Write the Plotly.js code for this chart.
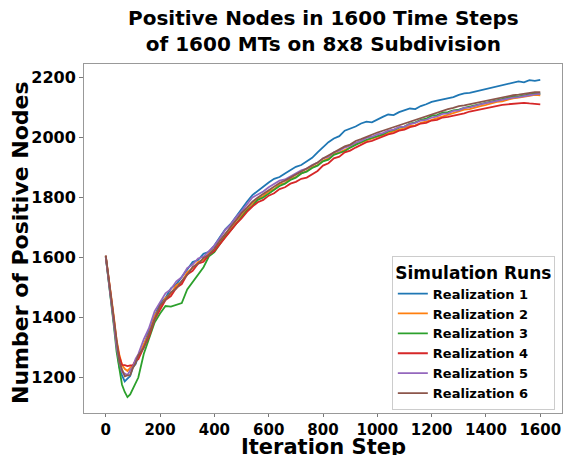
<!DOCTYPE html>
<html>
<head>
<meta charset="utf-8">
<script src="https://cdn.plot.ly/plotly-3.0.1.min.js"></script>
<style>html,body{margin:0;padding:0;background:#fff;}#chart{width:565px;height:455px;}</style>
</head>
<body>
<div id="chart"></div>
<script>
const steps = [0,10,20,30,40,50,60,70,80,90,100,110,120,140,160,180,200,220,240,260,280,300,320,340,360,380,400,420,440,460,480,500,520,540,560,580,600,620,640,660,680,700,720,740,760,780,800,820,840,860,880,900,920,940,960,980,1000,1020,1040,1060,1080,1100,1120,1140,1160,1180,1200,1220,1240,1260,1280,1300,1320,1340,1360,1380,1400,1420,1440,1460,1480,1500,1520,1540,1560,1580,1600];

const realization1 = [1603,1528,1455,1366,1298,1236,1208,1188,1197,1206,1235,1246,1271,1306,1362,1404,1448,1466,1498,1511,1536,1557,1585,1592,1613,1619,
  1640,1668,1694,1712,1738,1762,1786,1808,1822,1838,1850,1862,1868,1880,1890,1902,1908,1920,1932,1950,
  1968,1984,1996,2004,2022,2028,2036,2046,2052,2050,2060,2068,2076,2074,2084,2090,2096,2094,2104,2110,2118,2122,2126,2130,2134,2141,2146,2148,2152,2158,2162,2165,2170,2172,2178,2182,2186,2183,2190,2188,2191];

const realization2 = [1606,1547,1472,1403,1327,1278,1243,1230,1223,1233,1240,1258,1269,1311,1349,1405,1437,1465,1480,1508,1519,1551,1565,1585,1593,1613,
  1628,1650,1676,1698,1722,1740,1762,1780,1795,1805,1820,1828,1844,1848,1862,1868,1880,1888,1900,1908,1922,1930,1944,1950,1958,1966,1978,1982,1990,1996,
  2004,2008,2016,2020,2026,2030,2038,2040,2048,2052,2058,2064,2070,2076,2080,2086,2092,2094,2100,2104,2108,2114,2118,2120,2126,2130,2132,2136,2138,2141,2140];

const realization3 = [1604,1532,1447,1372,1287,1228,1177,1153,1136,1145,1162,1184,1201,1279,1331,1384,1414,1439,1437,1444,1449,1494,1518,1546,1568,1604,
  1618,1644,1670,1690,1712,1734,1756,1772,1792,1800,1812,1824,1838,1846,1858,1866,1880,1886,1898,1906,1920,1926,1942,1948,1954,1966,1976,1984,1992,1998,
  2006,2010,2020,2024,2032,2036,2046,2050,2058,2062,2072,2074,2082,2084,2090,2092,2098,2102,2108,2110,2116,2120,2124,2126,2130,2136,2136,2140,2142,2146,2145];

const realization4 = [1606,1542,1465,1393,1317,1271,1243,1242,1239,1241,1242,1258,1262,1301,1338,1394,1426,1459,1472,1500,1512,1544,1556,1580,1586,1609,
  1622,1644,1668,1688,1712,1730,1752,1770,1784,1792,1806,1814,1828,1834,1846,1852,1862,1866,1878,1888,1906,1914,1930,1936,1950,1956,1966,1974,1984,1988,
  1996,2002,2010,2014,2022,2026,2034,2038,2046,2048,2056,2058,2066,2068,2072,2074,2080,2086,2090,2094,2098,2102,2106,2108,2110,2112,2114,2115,2113,2112,2110];

const realization5 = [1602,1534,1452,1381,1302,1253,1219,1213,1209,1225,1237,1263,1279,1328,1367,1421,1452,1481,1495,1521,1535,1565,1577,1597,1603,1623,
  1640,1664,1692,1710,1735,1754,1776,1800,1810,1820,1834,1846,1856,1860,1870,1878,1890,1896,1908,1916,1930,1936,1950,1956,1966,1972,1982,1988,1998,2002,
  2010,2014,2022,2026,2034,2036,2044,2048,2056,2058,2066,2070,2078,2080,2088,2090,2098,2100,2106,2110,2114,2118,2122,2124,2128,2132,2134,2138,2140,2143,2145];

const realization6 = [1607,1538,1465,1382,1315,1255,1228,1205,1208,1209,1233,1249,1275,1299,1348,1392,1441,1459,1485,1497,1523,1542,1569,1579,1599,1609,
  1630,1656,1680,1702,1724,1748,1766,1786,1800,1812,1826,1838,1848,1856,1866,1876,1886,1896,1906,1916,1930,1940,1950,1960,1970,1976,1988,1994,2002,2010,
  2016,2022,2028,2034,2040,2046,2052,2058,2064,2070,2076,2082,2090,2094,2098,2104,2106,2110,2114,2118,2122,2126,2130,2134,2138,2140,2142,2145,2148,2150,2150];

const seriesNames = ['Realization 1','Realization 2','Realization 3','Realization 4','Realization 5','Realization 6'];
const seriesValues = [realization1, realization2, realization3, realization4, realization5, realization6];
const colors = ['#1f77b4','#ff7f0e','#2ca02c','#d62728','#9467bd','#8c564b'];
const xTicks = [0,200,400,600,800,1000,1200,1400,1600];
const yTicks = [1200,1400,1600,1800,2000,2200];
const titleLines = ['Positive Nodes in 1600 Time Steps', 'of 1600 MTs on 8x8 Subdivision'];
const xTitle = 'Iteration Step';
const yTitle = 'Number of Positive Nodes';

const FONT = 'DejaVu Sans, sans-serif';
const traces = seriesValues.map((v, i) => ({
  x: steps, y: v, type: 'scatter', mode: 'lines', name: '<b>' + seriesNames[i] + '</b>',
  line: {color: colors[i], width: 1.8}
}));

const layout = {
  width: 565, height: 455,
  margin: {l: 84, r: 3, t: 64, b: 42},
  paper_bgcolor: '#fff', plot_bgcolor: '#fff',
  font: {family: FONT, color: '#000'},
  annotations: [{
    text: '<b>' + titleLines.join('<br>') + '</b>',
    xref: 'paper', yref: 'paper', x: 0.5, y: 1, xanchor: 'center', yanchor: 'bottom',
    yshift: 6, showarrow: false, align: 'center',
    font: {family: FONT, size: 20, color: '#000'}
  }, {
    text: '<b>' + xTitle + '</b>',
    xref: 'paper', yref: 'paper', x: 0.5, y: 0, xanchor: 'center', yanchor: 'top',
    yshift: -21, showarrow: false, borderpad: 0,
    font: {family: FONT, size: 21, color: '#000'}
  }, {
    text: '<b>' + yTitle + '</b>', textangle: -90,
    xref: 'paper', yref: 'paper', x: 0, y: 0.487, xanchor: 'center', yanchor: 'middle',
    xshift: -64, showarrow: false,
    font: {family: FONT, size: 22, color: '#000'}
  }],
  xaxis: {
    range: [-80, 1680], tickvals: xTicks, ticktext: xTicks.map(t => '<b>' + t + '</b>'),
    showgrid: false, zeroline: false, showline: true, mirror: true,
    linecolor: '#999', linewidth: 1, ticks: 'outside', ticklen: 3, tickcolor: '#777',
    tickfont: {family: FONT, size: 15, color: '#000'}, ticklabeloverflow: 'allow', tickangle: 0
  },
  yaxis: {
    range: [1083, 2244], tickvals: yTicks, ticktext: yTicks.map(t => '<b>' + t + '</b>'),
    showgrid: false, zeroline: false, showline: true, mirror: true,
    linecolor: '#999', linewidth: 1, ticks: 'outside', ticklen: 4, tickcolor: '#777',
    tickfont: {family: FONT, size: 16, color: '#000'}
  },
  legend: {
    x: 0.985, xanchor: 'right', y: 0.01, yanchor: 'bottom',
    bgcolor: 'rgba(255,255,255,0.9)', bordercolor: '#ccc', borderwidth: 1,
    font: {family: FONT, size: 13, color: '#000'},
    title: {text: '<b>Simulation Runs</b>', font: {family: FONT, size: 17, color: '#000'}, side: 'top center'},
    itemwidth: 30, tracegroupgap: 0
  },
  showlegend: true
};

Plotly.newPlot('chart', traces, layout, {staticPlot: true, displayModeBar: false});
</script>
</body>
</html>
